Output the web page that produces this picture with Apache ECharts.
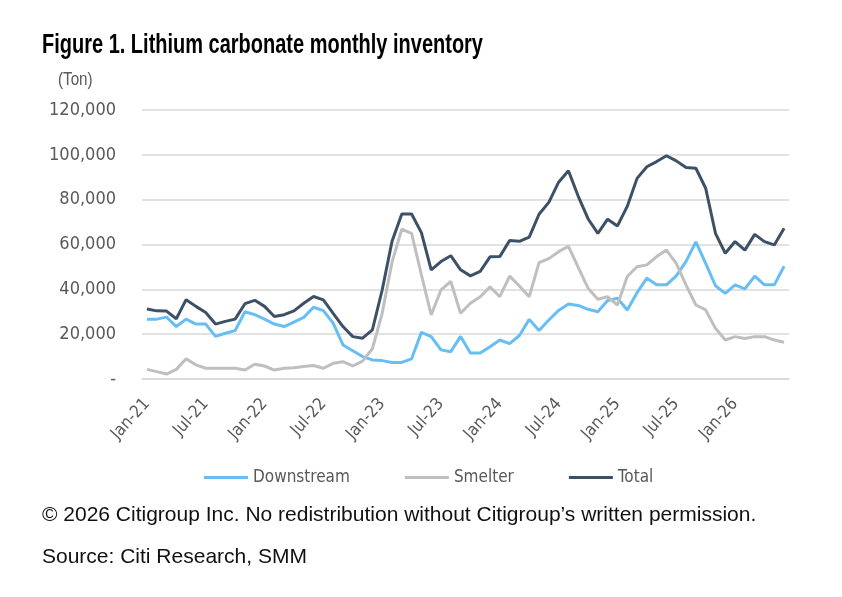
<!DOCTYPE html>
<html>
<head>
<meta charset="utf-8">
<script src="https://cdn.jsdelivr.net/npm/echarts@6/dist/echarts.min.js"></script>
<style>
  html, body { margin: 0; padding: 0; background: #fff; }
  #chart { width: 842px; height: 597px; }
</style>
</head>
<body>
<div id="chart"></div>
<script>
// monthly categories, Jan-21 .. Jun-26
const months = [
  'Jan-21','Feb-21','Mar-21','Apr-21','May-21','Jun-21','Jul-21','Aug-21','Sep-21','Oct-21','Nov-21','Dec-21',
  'Jan-22','Feb-22','Mar-22','Apr-22','May-22','Jun-22','Jul-22','Aug-22','Sep-22','Oct-22','Nov-22','Dec-22',
  'Jan-23','Feb-23','Mar-23','Apr-23','May-23','Jun-23','Jul-23','Aug-23','Sep-23','Oct-23','Nov-23','Dec-23',
  'Jan-24','Feb-24','Mar-24','Apr-24','May-24','Jun-24','Jul-24','Aug-24','Sep-24','Oct-24','Nov-24','Dec-24',
  'Jan-25','Feb-25','Mar-25','Apr-25','May-25','Jun-25','Jul-25','Aug-25','Sep-25','Oct-25','Nov-25','Dec-25',
  'Jan-26','Feb-26','Mar-26','Apr-26','May-26','Jun-26'
]

// tons
const downstream = [
  26700, 26700, 27600, 23400, 26700, 24500, 24500, 19000, 20400, 21600, 30000, 28700,
  26700, 24500, 23400, 25400, 27500, 32000, 30500, 24900, 15200, 12600, 10000, 8500,
  8200, 7400, 7400, 9000, 20800, 18900, 13000, 12200, 19000, 11600, 11600, 14400,
  17400, 15800, 19400, 26600, 21600, 26300, 30600, 33500, 32800, 31100, 30000, 35000,
  36000, 30800, 38500, 45000, 42000, 42000, 46000, 52500, 61200, 51600, 41600, 38200,
  42000, 40200, 45900, 42000, 42000, 50300
]
const smelter = [
  4300, 3300, 2200, 4300, 9000, 6300, 4800, 4800, 4800, 4800, 4000, 6600,
  5800, 4000, 4800, 5000, 5600, 6000, 4800, 7000, 7700, 5800, 8000, 13500,
  29300, 52000, 66800, 65000, 46500, 28600, 39700, 43500, 29300, 33800, 36700, 41100,
  36700, 45900, 41500, 36700, 51900, 53700, 56800, 59200, 49800, 40500, 35600, 36700,
  33000, 45700, 50100, 50900, 54600, 57500, 51600, 41900, 33000, 30800, 22600, 17400,
  18900, 18100, 18900, 18900, 17400, 16400
]
const total = [
  31200, 30400, 30300, 26900, 35400, 32400, 29700, 24500, 25700, 26700, 33600, 35100,
  32400, 27900, 28700, 30400, 33800, 36800, 35300, 29300, 23400, 18900, 18200, 21900,
  39700, 61300, 73600, 73600, 65300, 48700, 52400, 55000, 48700, 46000, 48000, 54500,
  54600, 61800, 61400, 63300, 73500, 78800, 87800, 92900, 81500, 71500, 65000, 71300,
  68300, 77000, 89500, 94700, 97000, 99600, 97300, 94300, 94000, 85100, 65000, 56100,
  61300, 57500, 64500, 61300, 59800, 67200
]

const cond = '"DejaVu Sans Condensed", "Liberation Sans", sans-serif'
const grey = '#595959'

const myChart = echarts.init(document.getElementById('chart'), null, { renderer: 'canvas' })

const option = {
  backgroundColor: '#fff',
  animation: false,
  // heading is squeezed sideways to get the tall condensed look of the original
  graphic: [
    {
      type: 'text',
      x: 42, y: 31,
      scaleX: 0.714,
      style: {
        text: 'Figure 1. Lithium carbonate monthly inventory',
        font: 'bold 28px "Liberation Sans", Arial, sans-serif',
        fill: '#000',
        verticalAlign: 'top'
      }
    },
    {
      type: 'text',
      x: 58, y: 70,
      scaleX: 0.8,
      style: {
        text: '(Ton)',
        font: '19px "Liberation Sans", Arial, sans-serif',
        fill: grey,
        verticalAlign: 'top'
      }
    }
  ],
  title: [
    {
      text: '\u00a9 2026 Citigroup Inc. No redistribution without Citigroup\u2019s written permission.',
      left: 37, top: 500,
      textStyle: { fontFamily: '"Liberation Sans", sans-serif', fontWeight: 'normal', fontSize: 21, color: '#111' }
    },
    {
      text: 'Source: Citi Research, SMM',
      left: 37, top: 542,
      textStyle: { fontFamily: '"Liberation Sans", sans-serif', fontWeight: 'normal', fontSize: 21, color: '#111' }
    }
  ],
  legend: {
    left: 199, top: 464,
    icon: 'rect',
    itemWidth: 44, itemHeight: 3,
    itemGap: 55,
    textStyle: { fontFamily: cond, fontSize: 17, color: grey },
    data: ['Downstream', 'Smelter', 'Total']
  },
  grid: { left: 142, right: 53, top: 110, bottom: 218 },
  xAxis: {
    type: 'category',
    data: months,
    boundaryGap: true,
    axisLine: { lineStyle: { color: '#D9D9D9', width: 1.5 } },
    axisTick: { interval: 5, length: 9, lineStyle: { color: '#D9D9D9', width: 1.5 } },
    axisLabel: {
      interval: 5, rotate: 48, margin: 22,
      fontFamily: cond, fontSize: 17, color: grey
    },
    splitLine: { show: false }
  },
  yAxis: {
    type: 'value',
    min: 0, max: 120000, interval: 20000,
    axisLine: { show: false },
    axisTick: { show: false },
    axisLabel: {
      margin: 26,
      fontFamily: cond, fontSize: 18, color: grey,
      formatter: v => v === 0 ? '-' : v.toLocaleString('en-US')
    },
    splitLine: { lineStyle: { color: '#D9D9D9', width: 1.5 } }
  },
  series: [
    {
      name: 'Downstream', type: 'line', data: downstream,
      showSymbol: false, symbol: 'none',
      itemStyle: { color: '#66BEF4' },
      lineStyle: { color: '#66BEF4', width: 3 }
    },
    {
      name: 'Smelter', type: 'line', data: smelter,
      showSymbol: false, symbol: 'none',
      itemStyle: { color: '#BFBFBF' },
      lineStyle: { color: '#BFBFBF', width: 3 }
    },
    {
      name: 'Total', type: 'line', data: total,
      showSymbol: false, symbol: 'none',
      itemStyle: { color: '#3D5166' },
      lineStyle: { color: '#3D5166', width: 3 }
    }
  ]
}
option && myChart.setOption(option)
</script>
</body>
</html>
